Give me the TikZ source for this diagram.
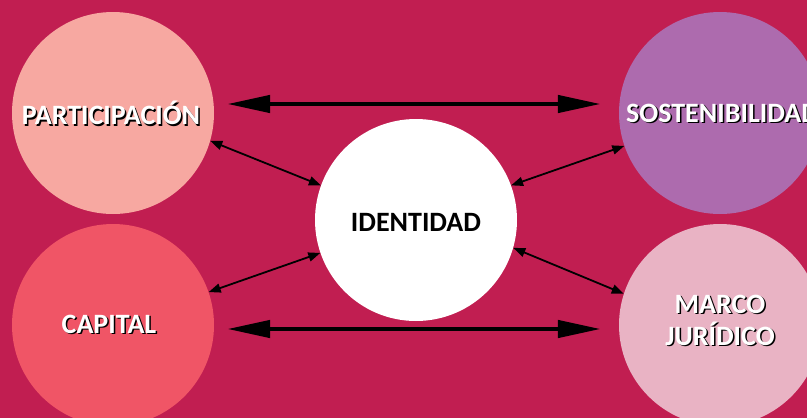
\documentclass[tikz,border=0pt]{standalone}
\usepackage{fontspec}
\setmainfont{Carlito}
\usetikzlibrary{arrows.meta}
\definecolor{bgc}{HTML}{C11E51}
\definecolor{cpart}{HTML}{F7A8A1}
\definecolor{ccap}{HTML}{F05566}
\definecolor{csost}{HTML}{AD6BAE}
\definecolor{cmarco}{HTML}{E9B3C4}
\tikzset{
  blob/.style={circle, minimum size=202pt, inner sep=0pt, draw=none},
  lbl/.style={font=\fontsize{28}{32}\selectfont\bfseries, text=white, align=center, inner sep=0pt},
  lblsh/.style={lbl, text=black},
  bigarrow/.style={line width=4.5pt, {Triangle[length=43pt,width=17pt]}-{Triangle[length=43pt,width=17pt]}},
  smallarrow/.style={line width=1.8pt, {Triangle[length=12pt,width=9pt]}-{Triangle[length=12pt,width=9pt]}}
}
\begin{document}
\begin{tikzpicture}[x=1pt,y=-1pt]
\fill[bgc] (0,0) rectangle (807,418);
\clip (0,0) rectangle (807,418);
\node[blob, fill=cpart] (part) at (113,113) {};
\node[blob, fill=ccap] (cap) at (113,325) {};
\node[blob, fill=white] (iden) at (416,220) {};
\node[blob, fill=csost] (sost) at (720,113) {};
\node[blob, fill=cmarco] (marco) at (720,325) {};
% labels
\node[lblsh] (tpartS) at (112.5,114.5) {PARTICIPACIÓN};
\node[lbl] (tpart) at (111,113) {PARTICIPACIÓN};
\node[lblsh] (tcapS) at (110.5,325.5) {CAPITAL};
\node[lbl] (tcap) at (109,324) {CAPITAL};
\node[lbl, text=black] (tiden) at (416,222) {IDENTIDAD};
\node[lblsh, anchor=west] (tsostS) at (627.5,114.5) {SOSTENIBILIDAD};
\node[lbl, anchor=west] (tsost) at (626,113) {SOSTENIBILIDAD};
\node[lblsh] (tmarcoS) at (721.5,321.5) {MARCO\\JURÍDICO};
\node[lbl] (tmarco) at (720,320) {MARCO\\JURÍDICO};
% arrows
\draw[bigarrow] ([xshift=13pt,yshift=9pt]part.east) -- ([xshift=-18pt,yshift=9pt]sost.west);
\draw[bigarrow] ([xshift=13pt,yshift=-4pt]cap.east) -- ([xshift=-18pt,yshift=-4pt]marco.west);
\draw[smallarrow] (part.-16) -- (iden.160);
\draw[smallarrow] (iden.199) -- (cap.19);
\draw[smallarrow] (iden.20) -- (sost.199);
\draw[smallarrow] (iden.-16.5) -- (marco.162);
\end{tikzpicture}
\end{document}
